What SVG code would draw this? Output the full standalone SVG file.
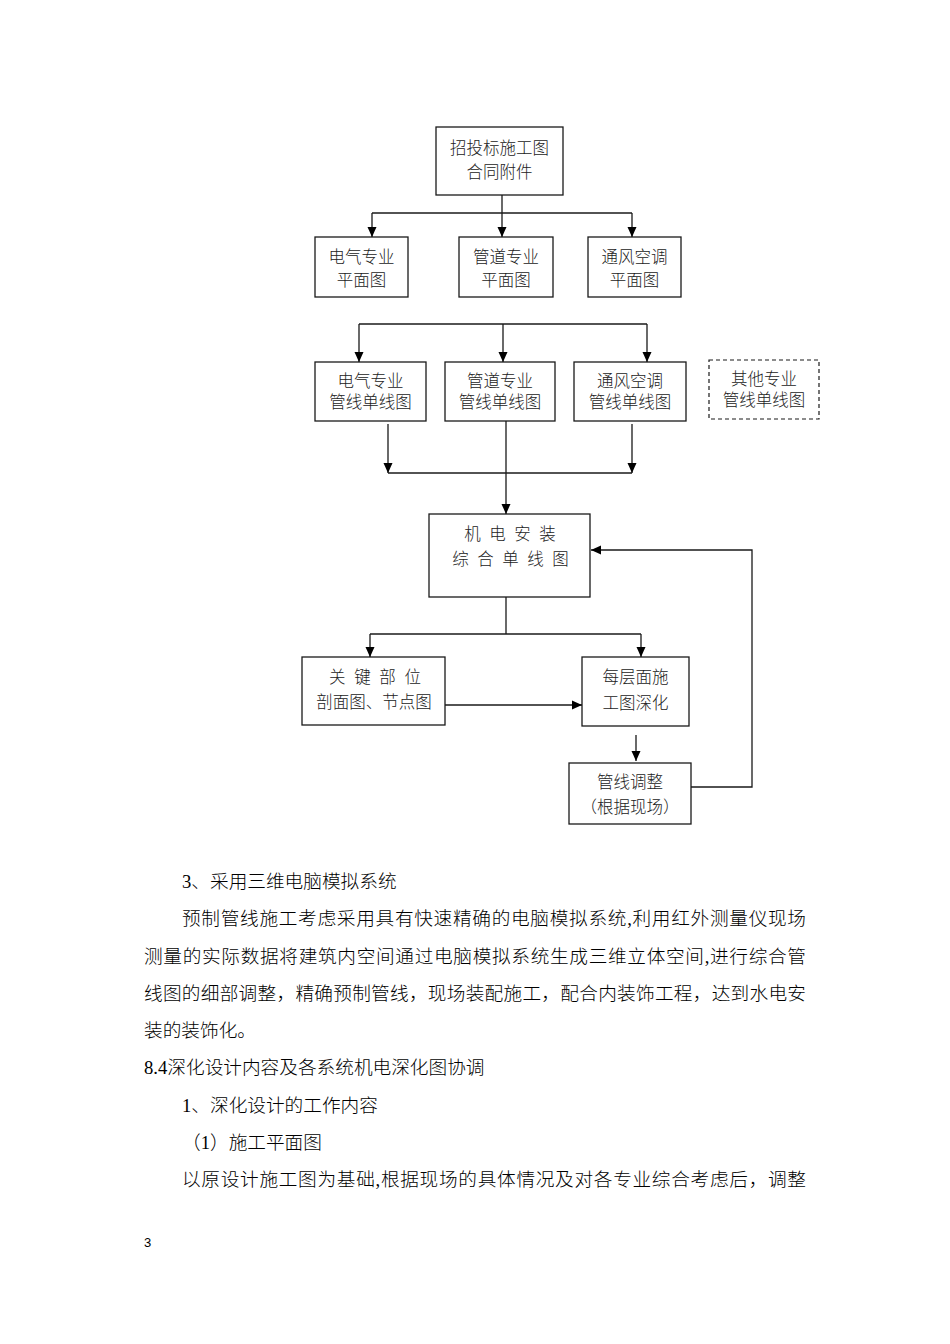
<svg xmlns="http://www.w3.org/2000/svg" width="950" height="1344" viewBox="0 0 950 1344">
<style>
.box{fill:#fff;stroke:#1a1a1a;stroke-width:1.3}
.dash{fill:#fff;stroke:#1a1a1a;stroke-width:1.2;stroke-dasharray:4 3}
.bt{font-family:"Liberation Serif","Noto Sans CJK SC",sans-serif;font-size:16.5px;font-weight:300;fill:#222;text-anchor:middle}
.body{font-family:"Liberation Serif","Noto Sans CJK SC",sans-serif;font-size:18.67px;font-weight:300;fill:#000}
.conn path{fill:none;stroke:#1a1a1a;stroke-width:1.3}
</style>
<defs>
<marker id="ah" markerUnits="userSpaceOnUse" markerWidth="10" markerHeight="10" refX="10" refY="5" orient="auto" viewBox="0 0 10 10">
<path d="M0,0.5 L10,5 L0,9.5 z" fill="#000"/>
</marker>
</defs>
<rect width="950" height="1344" fill="#fff"/>

<g id="n-top"><rect class="box" x="436" y="127" width="127" height="68"/>
<text class="bt" x="499.5" y="154.1">招投标施工图</text><text class="bt" x="499.5" y="178.1">合同附件</text></g>

<g id="n-elec-plan"><rect class="box" x="315" y="237" width="93" height="60"/>
<text class="bt" x="361.5" y="262.6">电气专业</text><text class="bt" x="361.5" y="285.6">平面图</text></g>
<g id="n-pipe-plan"><rect class="box" x="459" y="237" width="94" height="60"/>
<text class="bt" x="506" y="262.6">管道专业</text><text class="bt" x="506" y="285.6">平面图</text></g>
<g id="n-hvac-plan"><rect class="box" x="588" y="237" width="93" height="60"/>
<text class="bt" x="634.5" y="262.6">通风空调</text><text class="bt" x="634.5" y="285.6">平面图</text></g>

<g id="n-elec-line"><rect class="box" x="315" y="362" width="111" height="59"/>
<text class="bt" x="370.5" y="386.8">电气专业</text><text class="bt" x="370.5" y="407.8">管线单线图</text></g>
<g id="n-pipe-line"><rect class="box" x="445" y="362" width="110" height="59"/>
<text class="bt" x="500" y="386.8">管道专业</text><text class="bt" x="500" y="407.8">管线单线图</text></g>
<g id="n-hvac-line"><rect class="box" x="574" y="362" width="112" height="59"/>
<text class="bt" x="630" y="386.8">通风空调</text><text class="bt" x="630" y="407.8">管线单线图</text></g>
<g id="n-other-line"><rect class="dash" x="709" y="360" width="110" height="59"/>
<text class="bt" x="764" y="385.1">其他专业</text><text class="bt" x="764" y="406.1">管线单线图</text></g>

<g id="n-combined"><rect class="box" x="429" y="514" width="161" height="83"/>
<text class="bt" x="510" y="540.1" word-spacing="4.4">机 电 安 装</text><text class="bt" x="510.5" y="565.1" word-spacing="4.4">综 合 单 线 图</text></g>

<g id="n-key"><rect class="box" x="302" y="657" width="143" height="68"/>
<text class="bt" x="375" y="683.1" word-spacing="4.6">关 键 部 位</text><text class="bt" x="374" y="708.1">剖面图、节点图</text></g>

<g id="n-floor"><rect class="box" x="582" y="657" width="107" height="69"/>
<text class="bt" x="635.5" y="683.1">每层面施</text><text class="bt" x="635.5" y="709.1">工图深化</text></g>

<g id="n-adjust"><rect class="box" x="569" y="763" width="122" height="61"/>
<text class="bt" x="630" y="788.1">管线调整</text><text class="bt" x="630" y="813.1">（根据现场）</text></g>

<g id="connectors" class="conn">
<path d="M502,195 V237" marker-end="url(#ah)"/>
<path d="M372,213 H632"/>
<path d="M372,213 V237" marker-end="url(#ah)"/>
<path d="M632,213 V237" marker-end="url(#ah)"/>
<path d="M359,324 H647"/>
<path d="M359,324 V362" marker-end="url(#ah)"/>
<path d="M503,324 V362" marker-end="url(#ah)"/>
<path d="M647,324 V362" marker-end="url(#ah)"/>
<path d="M388,424 V473" marker-end="url(#ah)"/>
<path d="M632,424 V473" marker-end="url(#ah)"/>
<path d="M388,473 H632"/>
<path d="M506,421 V514" marker-end="url(#ah)"/>
<path d="M506,597 V634"/>
<path d="M370,634 H641"/>
<path d="M370,634 V657" marker-end="url(#ah)"/>
<path d="M641,634 V657" marker-end="url(#ah)"/>
<path d="M445,705 H582" marker-end="url(#ah)"/>
<path d="M636,735 V761" marker-end="url(#ah)"/>
<path d="M691,787 H752 V550 H591" marker-end="url(#ah)"/>
</g>

<g id="body-text">
<text class="body" x="182" y="887.9">3、采用三维电脑模拟系统</text>
<text class="body" x="182" y="925.2" textLength="624" lengthAdjust="spacing">预制管线施工考虑采用具有快速精确的电脑模拟系统,利用红外测量仪现场</text>
<text class="body" x="144" y="962.5" textLength="662" lengthAdjust="spacing">测量的实际数据将建筑内空间通过电脑模拟系统生成三维立体空间,进行综合管</text>
<text class="body" x="144" y="999.8" textLength="662" lengthAdjust="spacing">线图的细部调整，精确预制管线，现场装配施工，配合内装饰工程，达到水电安</text>
<text class="body" x="144" y="1037.1">装的装饰化。</text>
<text class="body" x="144" y="1074.4">8.4深化设计内容及各系统机电深化图协调</text>
<text class="body" x="182" y="1111.7">1、深化设计的工作内容</text>
<text class="body" x="182" y="1149">（1）施工平面图</text>
<text class="body" x="182" y="1186.3" textLength="624" lengthAdjust="spacing">以原设计施工图为基础,根据现场的具体情况及对各专业综合考虑后，调整</text>
<text x="144" y="1246.7" font-family="Liberation Sans, sans-serif" font-size="13" fill="#000">3</text>
</g>
</svg>
